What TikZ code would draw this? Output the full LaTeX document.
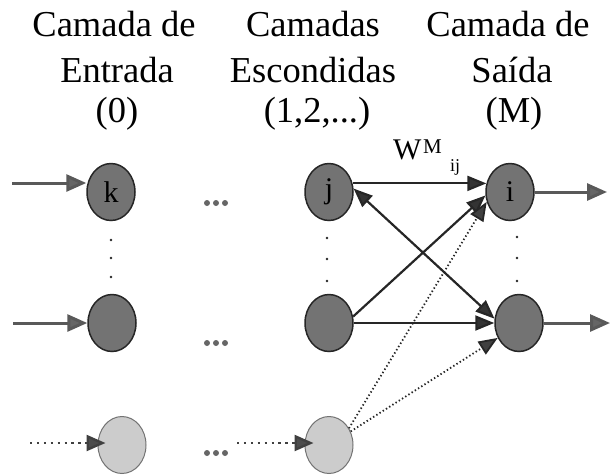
\documentclass[tikz,border=0pt]{standalone}
\usepackage{fontspec}
\setmainfont{Liberation Serif}
\usetikzlibrary{arrows.meta,shapes.geometric}
\begin{document}
\begin{tikzpicture}[x=1pt,y=-1pt,
  hdr/.style={font=\fontsize{36.5}{42}\selectfont, anchor=base, inner sep=0},
  darknode/.style={ellipse, minimum width=48pt, minimum height=57pt, inner sep=0,
    fill=black!55, draw=black!85, line width=1.5pt, font=\fontsize{30}{30}\selectfont},
  lightnode/.style={ellipse, minimum width=48pt, minimum height=57pt, inner sep=0,
    fill=black!20, draw=black!55, line width=1pt},
  inarrow/.style={draw=black!65, line width=3pt,
    -{Triangle[length=20pt,width=17pt,fill=black!60]}},
  wire/.style={draw=black!85, line width=2.2pt,
    -{Triangle[length=19pt,width=15pt,fill=black!80]}},
  dwire/.style={draw=black!85, line width=2.2pt,
    {Triangle[length=19pt,width=15pt,fill=black!80]}-{Triangle[length=19pt,width=15pt,fill=black!80]}},
  dotwire/.style={draw=black!85, line width=1.8pt, dash pattern=on 1.4pt off 2.4pt,
    -{Triangle[length=19pt,width=15pt,fill=black!75]}},
  dotin/.style={draw=black!75, line width=2.4pt, dash pattern=on 2.4pt off 4.5pt,
    -{Triangle[length=19pt,width=16pt,fill=black!70]}},
  ell/.style={fill=black!60},
  vdot/.style={fill=black!85},
  lbl/.style={inner sep=0}
]
\useasboundingbox (0,0) rectangle (610,475);

% headers
\node[hdr] (h1a) at (114,36) {Camada de};
\node[hdr] (h1b) at (117,82) {Entrada};
\node[hdr] (h1c) at (117,122) {(0)};
\node[hdr] (h2a) at (313,36) {Camadas};
\node[hdr] (h2b) at (313,82) {Escondidas};
\node[hdr] (h2c) at (317,122) {(1,2,...)};
\node[hdr] (h3a) at (508,36) {Camada de};
\node[hdr] (h3b) at (512,82) {Saída};
\node[hdr] (h3c) at (514,122) {(M)};

% nodes
\node[darknode] (k)  at (111,192) {k};
\node[darknode] (n1) at (112,323) {};
\node[lightnode] (l1) at (122,445) {};
\node[darknode] (j)  at (329,192) {j};
\node[darknode] (n2) at (329,323) {};
\node[lightnode] (l2) at (329,445) {};
\node[darknode] (i)  at (510,192) {i};
\node[darknode] (i2) at (519,323) {};

% free ends
\coordinate (in1) at (12,183);
\coordinate (in2) at (13,323);
\coordinate (in3) at (30,443);
\coordinate (in4) at (237,443);
\coordinate (o1) at (607,192);
\coordinate (o2) at (610,323);

% input arrows
\draw[inarrow] (in1) -- (in1 -| k.west);
\draw[inarrow] (in2) -- (n1.west);
\draw[dotin, shorten >=-8pt] (in3) -- (in3 -| l1.west);
\draw[dotin, shorten >=-9pt] (in4) -- (in4 -| l2.west);

% hidden -> output
\draw[wire] (j.20) -- (i.160);
\draw[wire] (n2.15) -- (i.188);
\draw[wire] (n2.east) -- (i2.west);
\draw[dwire] (j.8) -- (i2.170);
\draw[dotwire] (l2.40) -- (i.203);
\draw[dotwire] (l2.32) -- (i2.215);

% output arrows
\draw[inarrow] (i.east) -- (o1);
\draw[inarrow] (i2.east) -- (o2);

% weight label
\node[lbl, anchor=base west, font=\fontsize{30}{30}\selectfont] (w) at (393,159) {W};
\node[lbl, anchor=base west, font=\fontsize{21}{21}\selectfont] (wm) at (423,153) {M};
\node[lbl, anchor=base west, font=\fontsize{18}{18}\selectfont] (wij) at (450,171) {ij};

% ellipsis dots between columns
\foreach \yy in {203,343,453}
  \foreach \xx in {207,216,225}
    \fill[ell] (\xx,\yy) circle[radius=3pt];

% vertical dots
\foreach \yy in {240,258,277} \fill[vdot] (111,\yy) circle[radius=1.4pt];
\foreach \yy in {238,259,281} \fill[vdot] (327,\yy) circle[radius=1.4pt];
\foreach \yy in {237,258,281} \fill[vdot] (517,\yy) circle[radius=1.4pt];
\end{tikzpicture}
\end{document}
